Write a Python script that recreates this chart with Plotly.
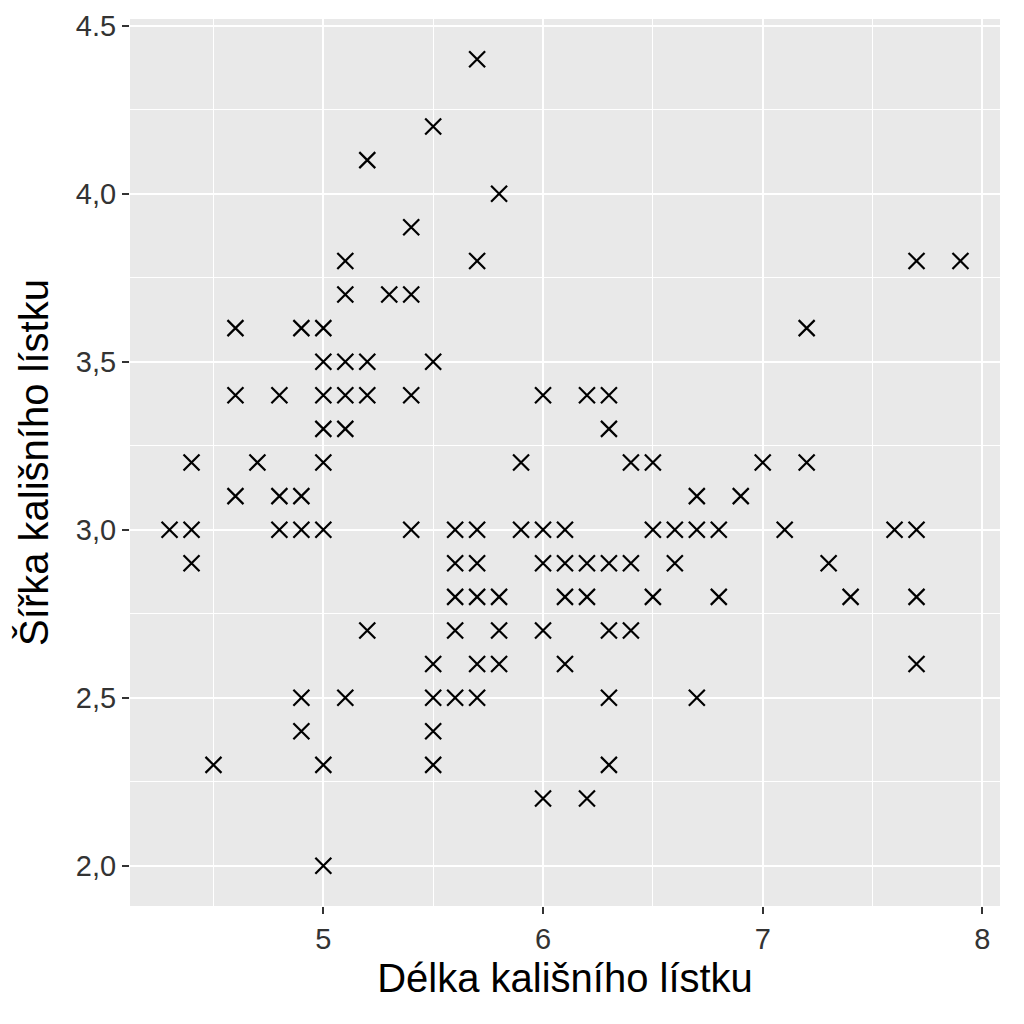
import plotly.graph_objects as go

# Délka / šířka kališního lístku (iris), bodů
delka = [5.1, 4.9, 4.7, 4.6, 5.0, 5.4, 4.6, 5.0, 4.4, 4.9, 5.4, 4.8, 4.8, 4.3, 5.8,
         5.7, 5.7, 5.1, 5.4, 5.1, 4.6, 5.1, 5.0, 5.2, 5.2, 4.8, 5.2, 5.5, 5.0, 5.5,
         4.9, 4.4, 5.1, 5.0, 4.5, 4.4, 5.3, 5.0,
         7.0, 6.4, 6.9, 5.5, 6.5, 5.7, 6.3, 4.9, 6.6, 5.2, 5.0, 5.9, 6.0, 6.1, 5.6,
         6.7, 5.6, 5.8, 6.2, 5.6, 5.9, 6.1, 6.3, 6.4, 6.6, 6.8, 6.7, 6.0, 5.7, 5.5,
         6.0, 5.4, 6.0, 6.3, 5.5, 5.5, 6.1, 5.8, 5.0, 5.6, 5.7, 5.7, 6.2, 5.1,
         7.1, 6.3, 7.6, 4.9, 7.3, 6.7, 7.2, 6.5, 6.4, 6.8, 5.7, 5.8, 7.7, 7.7, 5.6,
         7.7, 7.2, 6.2, 7.4, 7.9, 6.3, 6.1, 7.7, 6.3, 6.0, 6.2, 6.5]
sirka = [3.5, 3.0, 3.2, 3.1, 3.6, 3.9, 3.4, 3.4, 2.9, 3.1, 3.7, 3.4, 3.0, 3.0, 4.0,
         4.4, 3.8, 3.8, 3.4, 3.7, 3.6, 3.3, 3.0, 3.5, 3.4, 3.1, 4.1, 4.2, 3.2, 3.5,
         3.6, 3.0, 3.4, 3.5, 2.3, 3.2, 3.7, 3.3,
         3.2, 3.2, 3.1, 2.3, 2.8, 2.8, 3.3, 2.4, 2.9, 2.7, 2.0, 3.0, 2.2, 2.9, 2.9,
         3.1, 3.0, 2.7, 2.2, 2.5, 3.2, 2.8, 2.5, 2.9, 3.0, 2.8, 3.0, 2.9, 2.6, 2.4,
         2.7, 3.0, 3.4, 2.3, 2.5, 2.6, 3.0, 2.6, 2.3, 2.7, 3.0, 2.9, 2.9, 2.5,
         3.0, 2.9, 3.0, 2.5, 2.9, 2.5, 3.6, 3.2, 2.7, 3.0, 2.5, 2.8, 3.8, 2.6, 2.8,
         2.8, 3.2, 2.8, 2.8, 3.8, 3.4, 2.6, 3.0, 2.7, 3.0, 3.4, 3.0]

x_ticks = [5, 6, 7, 8]
y_ticks = [2.0, 2.5, 3.0, 3.5, 4.0, 4.5]
y_labels = ["2,0", "2,5", "3,0", "3,5", "4,0", "4.5"]

fig = go.Figure(go.Scatter(
    x=delka, y=sirka, mode="markers",
    marker=dict(symbol="x-thin", size=16, color="black",
                line=dict(width=2.2, color="black")),
))

fig.update_layout(
    width=1024, height=1024,
    plot_bgcolor="#E9E9E9", paper_bgcolor="white",
    margin=dict(l=122, r=32, t=11, b=126),
    font=dict(family="Liberation Sans, Arial, sans-serif"),
    showlegend=False,
    xaxis=dict(
        range=[4.12, 8.08], tickvals=x_ticks, zeroline=False, automargin=False,
        showgrid=True, gridcolor="white", gridwidth=2.4,
        minor=dict(tickvals=[4.5, 5.5, 6.5, 7.5], showgrid=True,
                   gridcolor="white", gridwidth=1.2),
        ticks="outside", ticklen=7, tickwidth=2.4, tickcolor="#333333",
        tickfont=dict(size=29, color="#333333"),
        title=dict(text="Délka kališního lístku", font=dict(size=40, color="black"),
                   standoff=10),
    ),
    yaxis=dict(
        range=[1.88, 4.52], tickvals=y_ticks, ticktext=y_labels, zeroline=False,
        automargin=False,
        showgrid=True, gridcolor="white", gridwidth=2.4,
        minor=dict(tickvals=[2.25, 2.75, 3.25, 3.75, 4.25], showgrid=True,
                   gridcolor="white", gridwidth=1.2),
        ticks="outside", ticklen=7, tickwidth=2.4, tickcolor="#333333",
        tickfont=dict(size=29, color="#333333"),
        title=dict(text="Šířka kališního lístku", font=dict(size=40, color="black"),
                   standoff=14),
    ),
)

fig.write_html("out.html")
